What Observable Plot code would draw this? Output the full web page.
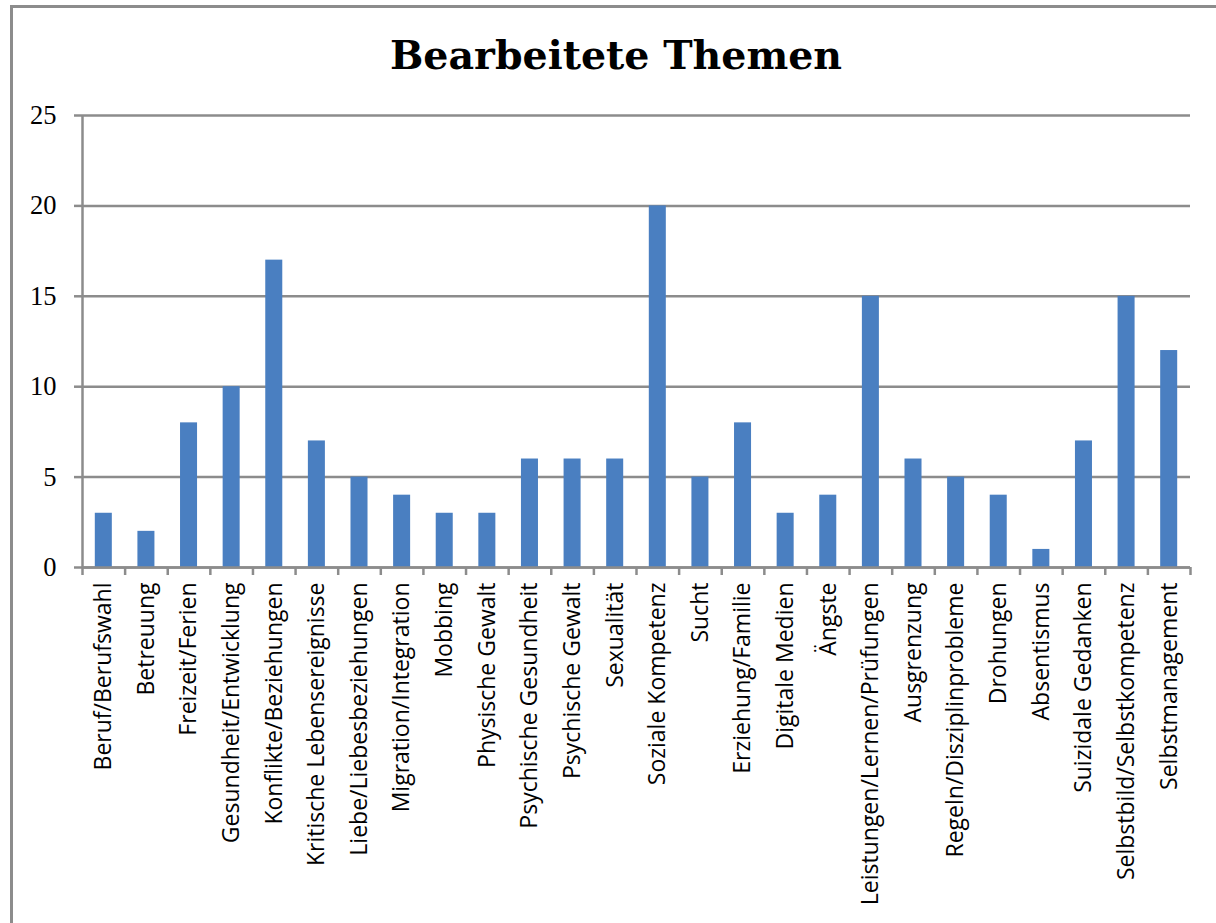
<!DOCTYPE html>
<html><head><meta charset="utf-8">
<script src="https://cdn.jsdelivr.net/npm/d3@7"></script>
<script src="https://cdn.jsdelivr.net/npm/@observablehq/plot@0.6"></script>
<style>
body{margin:0;background:#fff;}
#wrap{position:relative;width:1216px;height:923px;overflow:hidden;background:#fff;}
#frame{position:absolute;left:10px;top:5px;width:1300px;height:1000px;border-left:3px solid #8c8c8c;border-top:3px solid #8c8c8c;}
#chart{position:absolute;left:0;top:0;}
#title{position:absolute;left:0;width:1232px;top:36px;text-align:center;font:bold 39.5px/39px "DejaVu Serif",serif;color:#000;}
</style>
</head><body>
<div id="wrap"><div id="frame"></div><div id="chart"></div><div id="title">Bearbeitete Themen</div></div>
<script>
const categories = ["Beruf/Berufswahl","Betreuung","Freizeit/Ferien","Gesundheit/Entwicklung","Konflikte/Beziehungen","Kritische Lebensereignisse","Liebe/Liebesbeziehungen","Migration/Integration","Mobbing","Physische Gewalt","Psychische Gesundheit","Psychische Gewalt","Sexualität","Soziale Kompetenz","Sucht","Erziehung/Familie","Digitale Medien","Ängste","Leistungen/Lernen/Prüfungen","Ausgrenzung","Regeln/Disziplinprobleme","Drohungen","Absentismus","Suizidale Gedanken","Selbstbild/Selbstkompetenz","Selbstmanagement"];
const values = [3,2,8,10,17,7,5,4,3,3,6,6,6,20,5,8,3,4,15,6,5,4,1,7,15,12];
const yTicks = [0,5,10,15,20,25];

const data = categories.map((c, i) => ({name: c, i, value: values[i]}));
const n = categories.length;
const gray = "#8c8c8c";

const chart = Plot.plot({
  width: 1216, height: 923,
  marginLeft: 82, marginRight: 26, marginTop: 115, marginBottom: 356,
  x: {type: "linear", domain: [0, n]},
  y: {domain: [0, 25]},
  style: {background: "transparent"},
  marks: [
    Plot.gridY(yTicks, {stroke: gray, strokeOpacity: 1, strokeWidth: 2.5}),
    Plot.rectY(data, {x1: d => d.i, x2: d => d.i + 1, y: "value", fill: "#4a7fc1", insetLeft: 12.8, insetRight: 12.8}),
    Plot.ruleX([0], {stroke: gray, strokeWidth: 2.5}),
    Plot.ruleY([0], {stroke: gray, strokeWidth: 2.5}),
    Plot.axisY(yTicks, {tickSize: 8, tickPadding: 18, stroke: gray, strokeWidth: 2.5, fill: "#000", fontSize: 26.5, fontFamily: "Liberation Serif", label: null, tickFormat: d => d}),
    Plot.axisX(d3.range(n + 1), {tickSize: 8, stroke: gray, strokeWidth: 2.5, tickFormat: () => "", label: null}),
    Plot.axisX(d3.range(n).map(i => i + 0.5), {tickSize: 0, tickPadding: 15, tickRotate: -90, fontSize: 23, fontFamily: "Open Sans", fill: "#000", label: null, tickFormat: v => categories[Math.round(v - 0.5)]})
  ]
});
document.getElementById("chart").appendChild(chart);
</script>
</body></html>
